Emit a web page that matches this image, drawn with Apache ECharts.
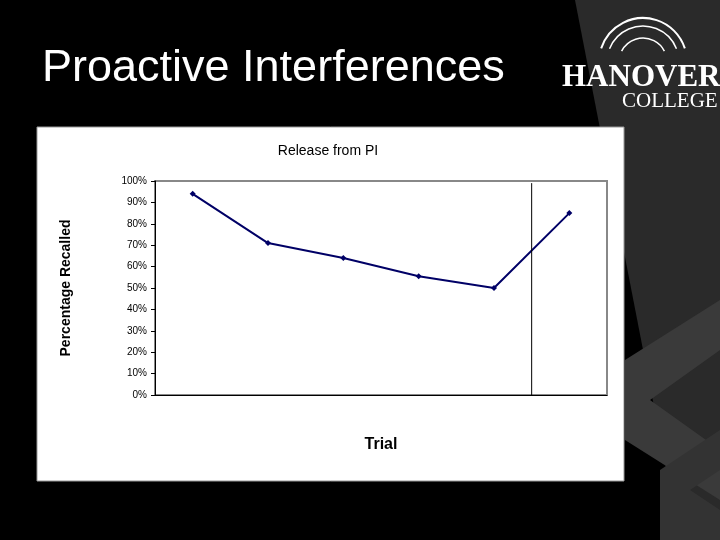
<!DOCTYPE html>
<html>
<head>
<meta charset="utf-8">
<script src="https://cdn.jsdelivr.net/npm/echarts@6/dist/echarts.min.js"></script>
<style>html,body{margin:0;padding:0;background:#000;}#main{width:720px;height:540px;}</style>
</head>
<body>
<div id="main"></div>
<script>
var trials = ['1', '2', '3', '4', '5', '6'];
var recalled = [0.94, 0.71, 0.64, 0.555, 0.50, 0.85];
var yTicks = [0, 0.1, 0.2, 0.3, 0.4, 0.5, 0.6, 0.7, 0.8, 0.9, 1];

var chart = echarts.init(document.getElementById('main'));

// background decorations, logo and white chart panel
var deco = [
    { type: 'polygon', shape: { points: [[575, 0], [720, 0], [720, 540], [680, 540]] }, style: { fill: '#2a2a2a' }, z: -10 },
    { type: 'polygon', shape: { points: [[625, 360], [720, 300], [720, 350], [650, 400], [720, 450], [720, 500], [625, 440]] }, style: { fill: '#3a3a3a' }, z: -9 },
    { type: 'polygon', shape: { points: [[660, 470], [720, 430], [720, 470], [690, 490], [720, 510], [720, 540], [660, 540]] }, style: { fill: '#333' }, z: -9 },
    { type: 'text', left: 42, top: 46, style: { text: 'Proactive Interferences', fill: '#fff', font: '45px Arial, "Liberation Sans", sans-serif' } },
    { type: 'arc', shape: { cx: 643, cy: 62, r: 44, startAngle: Math.PI * 1.1, endAngle: Math.PI * 1.9 }, style: { stroke: '#fff', lineWidth: 2, fill: null } },
    { type: 'arc', shape: { cx: 643, cy: 62, r: 36, startAngle: Math.PI * 1.12, endAngle: Math.PI * 1.88 }, style: { stroke: '#fff', lineWidth: 1.5, fill: null } },
    { type: 'arc', shape: { cx: 643, cy: 62, r: 24, startAngle: Math.PI * 1.15, endAngle: Math.PI * 1.85 }, style: { stroke: '#fff', lineWidth: 1.5, fill: null } },
    { type: 'text', left: 562, top: 62, style: { text: 'HANOVER', fill: '#fff', font: 'bold 31px "Liberation Serif", serif' } },
    { type: 'text', left: 622, top: 91, style: { text: 'COLLEGE', fill: '#fff', font: '21px "Liberation Serif", serif' } },
    { type: 'rect', shape: { x: 37, y: 127, width: 587, height: 354 }, style: { fill: '#fff', stroke: '#999', lineWidth: 1 }, z: -1 },
    { type: 'text', x: 66, y: 288, rotation: Math.PI / 2, style: { text: 'Percentage Recalled', fill: '#000', align: 'center', verticalAlign: 'middle', font: 'bold 14px Arial, "Liberation Sans", sans-serif' } },
    { type: 'rect', shape: { x: 155, y: 181, width: 452, height: 214 }, style: { fill: null, stroke: '#888', lineWidth: 2 }, z: 0 }
];

chart.setOption({
    backgroundColor: '#000',
    animation: false,
    title: {
        text: 'Release from PI', left: 323, top: 139, textAlign: 'center',
        textStyle: { fontSize: 14, fontWeight: 'normal', color: '#000', fontFamily: 'Arial' }
    },
    grid: { left: 155, right: 113, top: 181, bottom: 145 },
    xAxis: {
        type: 'category', data: trials, boundaryGap: true,
        name: 'Trial', nameLocation: 'middle', nameGap: 42,
        nameTextStyle: { fontSize: 16, fontWeight: 'bold', color: '#000', fontFamily: 'Arial' },
        axisLine: { lineStyle: { color: '#000' } },
        axisTick: { lineStyle: { color: '#000' }, length: 4, inside: false },
        axisLabel: { show: false },
        splitLine: { show: false }
    },
    yAxis: {
        type: 'value', min: 0, max: 1, interval: 0.1,
        axisLine: { show: true, lineStyle: { color: '#000' } },
        axisTick: { show: true, lineStyle: { color: '#000' }, length: 4 },
        axisLabel: {
            fontSize: 10, color: '#000', fontFamily: 'Arial',
            formatter: function (v) { return Math.round(v * 100) + '%'; }
        },
        splitLine: { show: false }
    },
    series: [{
        type: 'line', data: recalled, symbol: 'diamond', symbolSize: 6,
        lineStyle: { color: '#000066', width: 2 },
        itemStyle: { color: '#000066' }, z: 5
    }],
    graphic: deco
});

// vertical divider between trial 5 and trial 6
var x5 = chart.convertToPixel({ xAxisIndex: 0 }, trials[4]);
var x6 = chart.convertToPixel({ xAxisIndex: 0 }, trials[5]);
var yTop = chart.convertToPixel({ yAxisIndex: 0 }, 0.99);
var yBot = chart.convertToPixel({ yAxisIndex: 0 }, 0);
deco.push({ type: 'line', shape: { x1: (x5 + x6) / 2, y1: yTop, x2: (x5 + x6) / 2, y2: yBot }, style: { stroke: '#000', lineWidth: 1 }, z: 10 });
chart.setOption({ graphic: deco });
</script>
</body>
</html>
